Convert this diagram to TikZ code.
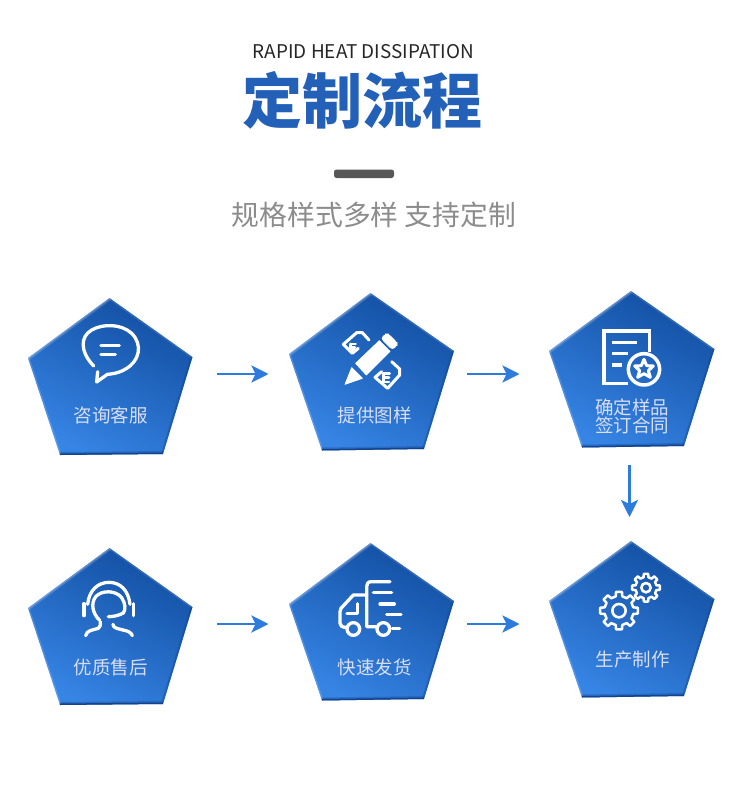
\documentclass[tikz,border=0pt]{standalone}
\usepackage{fontspec}
\setmainfont{Noto Sans CJK SC}
\usetikzlibrary{arrows.meta}
\definecolor{pdark}{HTML}{124FA2}
\definecolor{plight}{HTML}{3684E4}
\definecolor{arrowblue}{HTML}{2C7BDD}
\definecolor{titleblue}{HTML}{2360B8}
\definecolor{labeltext}{HTML}{D9DEF3}
\definecolor{edgedark}{HTML}{0E3D86}
\tikzset{
  flow/.style={draw=arrowblue,line width=2.8pt,-{Stealth[length=17pt,width=17pt,inset=4pt]}},
  label text/.style={text=labeltext,font=\fontsize{18.5}{18.5}\selectfont,align=center,inner sep=0pt},
  ico/.style={draw=white,line width=3.3pt,line cap=round,line join=round},
  icof/.style={fill=white,draw=white,line width=.8pt,line join=round},
}
\newcommand\pent[5]{%
  \begin{scope}
    \clip #1 -- #2 -- #3 -- #4 -- #5 -- cycle;
    \shade[top color=pdark,bottom color=plight,shading angle=-28] #1 -- #2 -- #3 -- #4 -- #5 -- cycle;
    \draw[white,opacity=.14,line width=5pt] #5 -- #1;
    \draw[white,opacity=.22,line width=2.4pt] #5 -- #1;
    \draw[white,opacity=.12,line width=3pt] #1 -- #2;
    \draw[white,opacity=.16,line width=3pt] #4 -- #5;
    \draw[edgedark,opacity=.35,line width=4pt] #2 -- #3;
    \draw[edgedark,opacity=.85,line width=3pt] #3 -- #4;
    \draw[edgedark,opacity=.3,line width=6pt] #3 -- #4;
  \end{scope}}
\newcommand\gearicon[5]{%
  \begin{scope}[shift={(#1,#2)}]
    \draw[ico,line width=2.5pt] (-13:#4) foreach \a in {0,45,...,315} {
      -- ({\a-13}:#4) -- ({\a-9}:#3) -- ({\a+9}:#3) -- ({\a+13}:#4) -- ({\a+32}:#4)
    } -- cycle;
    \draw[ico,line width=2.6pt] (0,0) circle (#5);
  \end{scope}}
\begin{document}
\begin{tikzpicture}[x=1pt,y=-1pt]
\useasboundingbox (0,0) rectangle (737,800);
\fill[white] (0,0) rectangle (737,800);
% heading
\node[inner sep=0pt,text=black!85,font=\fontsize{18.9}{20}\selectfont] (eng) at (363.5,52) {RAPID HEAT DISSIPATION};
\node[inner sep=0pt,text=titleblue,font=\fontsize{60}{60}\selectfont\bfseries] (ttl) at (362.5,100) {定制流程};
\fill[rounded corners=2.5pt,fill=black!66] (334,169.5) rectangle (394,178);
\node[inner sep=0pt,text=black!45,font=\fontsize{27.8}{30}\selectfont] (sub) at (374,215) {规格样式多样 支持定制};
% pentagons
\foreach \dy in {0,250}{
  \begin{scope}[shift={(0,\dy)}]
    \pent{(109.5,298)}{(192.5,357)}{(163,454)}{(60,455)}{(28,358)}
    \pent{(370.5,293)}{(454,351)}{(424,449)}{(322,450.5)}{(289,354)}
    \pent{(631,291)}{(714.5,349)}{(684,446)}{(582,447.5)}{(549,351)}
  \end{scope}
}
% labels
\node[label text] (l1) at (110.5,415) {咨询客服};
\node[label text] (l2) at (374.5,415) {提供图样};
\node[label text] (l3) at (632,416.5) {确定样品\\签订合同};
\node[label text] (l4) at (110.5,667.5) {优质售后};
\node[label text] (l5) at (374.5,667.5) {快速发货};
\node[label text] (l6) at (632.5,659.5) {生产制作};
% connectors
\coordinate (a1) at (217,374); \coordinate (b1) at (268.5,374);
\coordinate (a2) at (467,374); \coordinate (b2) at (519.5,374);
\coordinate (a3) at (629.5,465); \coordinate (b3) at (629.5,517);
\coordinate (a4) at (217,624); \coordinate (b4) at (268.5,624);
\coordinate (a5) at (467,624); \coordinate (b5) at (519.5,624);
\draw[flow] (a1) -- (b1);
\draw[flow] (a2) -- (b2);
\draw[flow] (a3) -- (b3);
\draw[flow] (a4) -- (b4);
\draw[flow] (a5) -- (b5);
% speech bubble
\begin{scope}[shift={(0,280)},scale=1/3]
  \draw[ico] (281,258) .. controls (240,215) and (240,170) .. (275,150)
     .. controls (310,130) and (365,132) .. (395,160)
     .. controls (430,195) and (418,245) .. (375,268)
     .. controls (355,280) and (335,282) .. (322,283) -- (290,306) -- (293,275);
  \draw[ico] (303,196) -- (358,196);
  \draw[ico] (303,223) -- (346,223);
\end{scope}
% pencil and rulers
\begin{scope}[shift={(335,320)},scale=1/3]
  \filldraw[icof] (30,193) -- (50,143) -- (82,175) -- cycle;
  \filldraw[icof] (62,130) -- (133,62) -- (165,94) -- (94,165) -- cycle;
  \filldraw[icof,rounded corners=3pt] (138,55) -- (152,42) -- (160,42) -- (186,68) -- (186,76) -- (172,89) -- cycle;
  \draw[ico,line width=3pt] (102,60) -- (82,38) -- (65,38) -- (25,73) -- (52,100) -- (70,85);
  \draw[ico,line width=2.6pt] (46,72) -- (62,72) (46,72) -- (46,92) (46,82) -- (60,82) (46,92) -- (60,92);
  \draw[ico,line width=3pt] (170,125) -- (194,147) -- (194,165) -- (158,205) -- (120,172) -- (140,155);
  \draw[ico,line width=2.6pt] (146,160) -- (164,160) (146,160) -- (146,186) (146,173) -- (162,173) (146,186) -- (162,186);
\end{scope}
% document with star
\begin{scope}[shift={(595,320)},scale=1/3]
  \draw[ico,line width=3.6pt,line cap=butt,line join=miter] (163,95) -- (163,33) -- (27,33) -- (27,190) -- (100,190);
  \draw[ico,line width=3.6pt,line cap=butt] (50,67) -- (125,67) (50,100) -- (100,100) (50,135) -- (82,135);
  \draw[ico,line width=3.5pt] (147,148) circle (47);
  \draw[ico,line width=3pt] (147,118) -- (155,137) -- (175,138) -- (160,152) -- (166,172) -- (147,161) -- (128,172) -- (134,152) -- (119,138) -- (139,137) -- cycle;
\end{scope}
% headset
\begin{scope}[shift={(75,575)},scale=1/3]
  \draw[ico] (27,86) -- (27,122);
  \draw[ico] (176,86) -- (176,122);
  \draw[ico] (38,88) .. controls (42,45) and (70,22) .. (102,22) .. controls (135,22) and (160,45) .. (165,88);
  \draw[ico] (74,136) .. controls (52,115) and (47,85) .. (62,65) .. controls (80,45) and (122,45) .. (140,68)
     .. controls (152,85) and (152,105) .. (145,114) .. controls (130,122) and (115,125) .. (100,125);
  \draw[ico] (32,182) .. controls (35,165) and (55,165) .. (70,160) .. controls (78,156) and (76,148) .. (76,140);
  \draw[ico] (114,148) .. controls (114,158) and (125,160) .. (140,164) .. controls (160,168) and (168,172) .. (172,182);
\end{scope}
% truck
\begin{scope}[shift={(335,575)},scale=1/3]
  \draw[ico] (165,20) -- (108,20) .. controls (98,20) and (95,28) .. (95,35) -- (95,155) -- (122,155);
  \draw[ico] (95,60) -- (55,60) -- (18,100) -- (15,110) -- (15,145) .. controls (15,152) and (22,157) .. (32,157);
  \draw[ico] (68,86) -- (68,115) -- (36,115);
  \draw[ico] (55,162) circle (19);
  \draw[ico] (145,162) circle (19);
  \draw[ico] (115,52) -- (170,52);
  \draw[ico] (135,87) -- (178,87);
  \draw[ico] (155,119) -- (198,119);
  \draw[ico] (172,161) -- (194,161);
\end{scope}
% gears
\begin{scope}[shift={(595,570)},scale=1/3]
  \gearicon{72}{122}{57}{44}{20}
  \gearicon{153}{53}{42}{32}{14}
\end{scope}
\end{tikzpicture}
\end{document}
